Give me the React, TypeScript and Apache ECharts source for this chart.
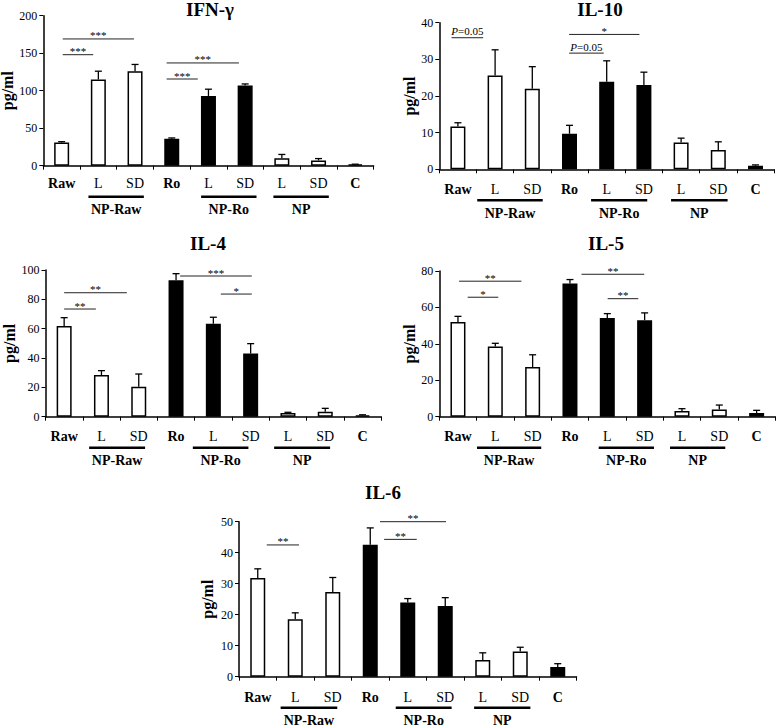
import React, { useEffect, useRef } from "react";
import * as echarts from "echarts";

const FONT = "'Liberation Serif','Times New Roman',Times,serif";

const categories = ["Raw", "L", "SD", "Ro", "L", "SD", "L", "SD", "C"];
const boldCats = [true, false, false, true, false, false, false, false, true];
const filledBars = [false, false, false, true, true, true, false, false, true];
const groupNames = ["NP-Raw", "NP-Ro", "NP"];

const ifngMean = [31, 115, 126, 36, 93, 107, 10, 7, 1.8];
const ifngErr = [1, 11, 9, 1, 9, 2, 5, 2.5, 0.2];
const il10Mean = [11.7, 25.6, 22, 9.7, 23.9, 23, 7.3, 5.3, 1];
const il10Err = [1, 7, 6, 2.3, 5.7, 3.5, 1.2, 2.2, 0.2];
const il4Mean = [61.8, 28.4, 20.5, 93, 63.4, 43, 2.5, 3.4, 0.9];
const il4Err = [5.7, 3, 8.6, 4.5, 4.4, 6.8, 0.5, 2.3, 0.4];
const il5Mean = [52, 38.5, 27.3, 73.1, 54.2, 53, 3.1, 3.9, 2];
const il5Err = [3.1, 1.8, 6.7, 2.2, 2.4, 4, 1.3, 2.5, 1.5];
const il6Mean = [31.8, 18.5, 27.3, 42.6, 23.9, 22.8, 5.4, 8.1, 3.1];
const il6Err = [3, 2.1, 4.7, 5.4, 1.3, 2.7, 2.3, 1.4, 1.1];

// significance brackets: [fromIndex, toIndex, value]
const ifngSig = [[0.03, 0.86, 148], [0.03, 1.97, 169], [2.86, 3.71, 115.6], [2.86, 4.83, 137]];
const ifngSigLabels = ["***", "***", "***", "***"];
const il10Sig = [[-0.17, 0.68, 35.9], [2.99, 4.88, 36.8], [2.99, 3.92, 31.7]];
const il10SigLabels = ["P=0.05", "*", "P=0.05"];
const il4Sig = [[0.0, 0.85, 73.4], [0.0, 1.68, 84.5], [3.11, 5.03, 95.9], [4.2, 5.03, 83.6]];
const il4SigLabels = ["**", "**", "***", "*"];
const il5Sig = [[0.03, 1.7, 74.4], [0.26, 1.08, 65.6], [3.31, 4.99, 78.2], [4.01, 4.83, 64.8]];
const il5SigLabels = ["**", "*", "**", "**"];
const il6Sig = [[0.24, 1.1, 42.5], [3.26, 5.02, 50], [3.37, 4.24, 44.3]];
const il6SigLabels = ["**", "**", "**"];

// group underline spans (category index units)
const ifngGroups = [[0.73, 2.24], [3.8, 5.31], [5.77, 7.28]];
const il10Groups = [[0.52, 2.28], [3.58, 5.09], [5.73, 7.25]];
const il4Groups = [[0.67, 2.17], [3.45, 4.94], [5.63, 7.13]];
const il5Groups = [[0.51, 2.23], [3.77, 5.25], [5.68, 7.16]];
const il6Groups = [[0.61, 2.12], [3.68, 5.17], [5.77, 7.27]];

const panels = [
  { title: "IFN-γ", mean: ifngMean, err: ifngErr, max: 200, interval: 50, sig: ifngSig, sigLabels: ifngSigLabels, groups: ifngGroups,
    grid: { left: 43.3, top: 15.7, width: 330.3, height: 150 }, titlePos: [210, 9], nameGap: 18, labelMargin: 11 },
  { title: "IL-10", mean: il10Mean, err: il10Err, max: 40, interval: 10, sig: il10Sig, sigLabels: il10SigLabels, groups: il10Groups,
    grid: { left: 439.3, top: 22.7, width: 334.8, height: 146.6 }, titlePos: [600, 9], nameGap: 22, labelMargin: 13 },
  { title: "IL-4", mean: il4Mean, err: il4Err, max: 100, interval: 20, sig: il4Sig, sigLabels: il4SigLabels, groups: il4Groups,
    grid: { left: 45.5, top: 270, width: 335.7, height: 146.7 }, titlePos: [208, 243], nameGap: 22, labelMargin: 13 },
  { title: "IL-5", mean: il5Mean, err: il5Err, max: 80, interval: 20, sig: il5Sig, sigLabels: il5SigLabels, groups: il5Groups,
    grid: { left: 439.3, top: 271, width: 336, height: 145.7 }, titlePos: [606, 243], nameGap: 18, labelMargin: 13 },
  { title: "IL-6", mean: il6Mean, err: il6Err, max: 50, interval: 10, sig: il6Sig, sigLabels: il6SigLabels, groups: il6Groups,
    grid: { left: 239, top: 521.7, width: 337.5, height: 155 }, titlePos: [383, 492.5], nameGap: 24, labelMargin: 14 },
];

function buildOption() {
  const grid: any[] = [];
  const xAxis: any[] = [];
  const yAxis: any[] = [];
  const series: any[] = [];
  const title: any[] = [];

  panels.forEach((p, i) => {
    grid.push({ ...p.grid, containLabel: false, outerBoundsMode: "none" });
    title.push({
      text: p.title,
      left: p.titlePos[0],
      top: p.titlePos[1],
      textAlign: "center",
      textVerticalAlign: "middle",
      padding: 0,
      textStyle: { fontFamily: FONT, fontWeight: "bold", fontSize: 19, color: "#000" },
    });
    xAxis.push({
      type: "category",
      gridIndex: i,
      data: categories,
      boundaryGap: true,
      axisLine: { show: true, onZero: false, lineStyle: { color: "#000", width: 1.5 } },
      axisTick: { show: true, interval: 0, length: 4, alignWithLabel: false, lineStyle: { color: "#000", width: 1 } },
      axisLabel: {
        interval: 0,
        margin: p.labelMargin,
        formatter: (v: string, idx: number) => (boldCats[idx] ? `{b|${v}}` : `{n|${v}}`),
        rich: {
          b: { fontFamily: FONT, fontWeight: "bold", fontSize: 14, color: "#000" },
          n: { fontFamily: FONT, fontWeight: "normal", fontSize: 14, color: "#000" },
        },
      },
      splitLine: { show: false },
    });
    xAxis.push({ type: "value", gridIndex: i, min: -0.5, max: 8.5, show: false, axisLine: { onZero: false } });
    yAxis.push({
      type: "value",
      gridIndex: i,
      min: 0,
      max: p.max,
      interval: p.interval,
      name: "pg/ml",
      nameLocation: "middle",
      nameRotate: 90,
      nameGap: p.nameGap,
      nameTextStyle: { fontFamily: FONT, fontWeight: "bold", fontSize: 16, color: "#000" },
      axisLine: { show: true, onZero: false, lineStyle: { color: "#000", width: 1.5 } },
      axisTick: { show: true, length: 4, lineStyle: { color: "#000" } },
      axisLabel: { fontFamily: FONT, fontSize: 12, color: "#000", margin: 6 },
      splitLine: { show: false },
    });

    series.push({
      type: "bar",
      xAxisIndex: 2 * i,
      yAxisIndex: i,
      barWidth: 15,
      data: p.mean.map((v, k) => ({
        value: v,
        itemStyle: { color: filledBars[k] ? "#000" : "#fff", borderColor: "#000", borderWidth: 1.5 },
      })),
      silent: true,
    });

    series.push({
      type: "custom",
      xAxisIndex: 2 * i,
      yAxisIndex: i,
      encode: { x: 0, y: 1 },
      clip: false,
      silent: true,
      data: p.mean.map((v, k) => [k, v, p.err[k]]),
      renderItem: (params: any, api: any) => {
        const x = api.value(0);
        const m = api.value(1);
        const e = api.value(2);
        const b = api.coord([x, m]);
        const t = api.coord([x, m + e]);
        const st = { stroke: "#000", lineWidth: 1.3 };
        return {
          type: "group",
          children: [
            { type: "line", shape: { x1: b[0], y1: b[1], x2: t[0], y2: t[1] }, style: st },
            { type: "line", shape: { x1: t[0] - 3.5, y1: t[1], x2: t[0] + 3.5, y2: t[1] }, style: st },
          ],
        };
      },
    });

    series.push({
      type: "custom",
      xAxisIndex: 2 * i + 1,
      yAxisIndex: i,
      encode: { x: [0, 1], y: 2 },
      clip: false,
      silent: true,
      z: 5,
      data: p.sig,
      renderItem: (params: any, api: any) => {
        const a = api.coord([api.value(0), api.value(2)]);
        const c = api.coord([api.value(1), api.value(2)]);
        const label = p.sigLabels[params.dataIndex];
        const isP = label.startsWith("P");
        const text = isP ? `{i|P}${label.slice(1)}` : label;
        return {
          type: "group",
          children: [
            { type: "line", shape: { x1: a[0], y1: a[1], x2: c[0], y2: c[1] }, style: { stroke: "#222", lineWidth: 1 } },
            {
              type: "text",
              x: (a[0] + c[0]) / 2,
              y: a[1] + (isP ? -1 : 2),
              style: {
                text,
                align: "center",
                verticalAlign: "bottom",
                fontFamily: FONT,
                fontSize: 11,
                fill: "#000",
                rich: { i: { fontFamily: FONT, fontSize: 11, fontStyle: "italic", fill: "#000" } },
              },
            },
          ],
        };
      },
    });

    series.push({
      type: "custom",
      xAxisIndex: 2 * i + 1,
      yAxisIndex: i,
      encode: { x: [0, 1] },
      clip: false,
      silent: true,
      data: p.groups.map((g) => [g[0], g[1], 0]),
      renderItem: (params: any, api: any) => {
        const a = api.coord([api.value(0), 0]);
        const c = api.coord([api.value(1), 0]);
        return {
          type: "group",
          children: [
            { type: "line", shape: { x1: a[0], y1: a[1] + 31, x2: c[0], y2: c[1] + 31 }, style: { stroke: "#000", lineWidth: 2.5 } },
            {
              type: "text",
              x: (a[0] + c[0]) / 2,
              y: a[1] + 44,
              style: {
                text: groupNames[params.dataIndex],
                align: "center",
                verticalAlign: "middle",
                fontFamily: FONT,
                fontWeight: "bold",
                fontSize: 14,
                fill: "#000",
              },
            },
          ],
        };
      },
    });
  });

  return { animation: false, backgroundColor: "#fff", title, grid, xAxis, yAxis, series };
}

export default function App() {
  const ref = useRef<HTMLDivElement>(null);
  useEffect(() => {
    if (!ref.current) return;
    const chart = echarts.init(ref.current, undefined, { renderer: "svg" });
    chart.setOption(buildOption() as any);
    return () => chart.dispose();
  }, []);
  return <div ref={ref} style={{ position: "absolute", left: 0, top: 0, width: 777, height: 728 }} />;
}
